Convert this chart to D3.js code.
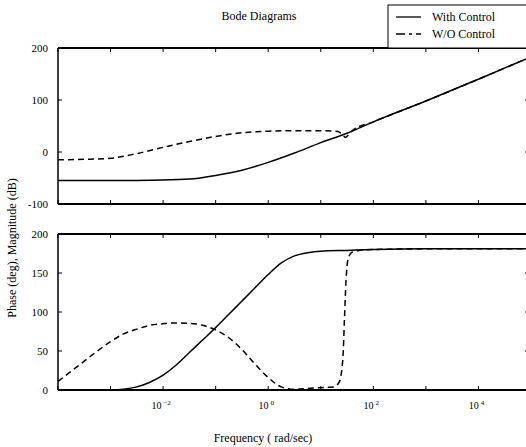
<!DOCTYPE html>
<html>
<head>
<meta charset="utf-8">
<script src="https://cdn.jsdelivr.net/npm/d3@7"></script>
<style>
  html, body { margin: 0; padding: 0; background: #fff; }
  svg { display: block; }
  text { font-family: "Liberation Serif", "Times New Roman", serif; fill: #000; }
</style>
</head>
<body>
<svg id="chart" width="526" height="447"></svg>
<script>
// Frequency samples are given as log10(rad/sec)
const magWithLogF = [-4, -3, -2, -1.5, -1, -0.5, 0, 0.5, 1, 1.5, 2, 3, 4, 5];
const magWith     = [-55, -55, -54, -52, -45, -35, -20, -2, 18, 36, 58, 98, 140, 183];

const magWoLogF = [-4, -3.5, -3, -2.5, -2, -1.5, -1, -0.5, 0, 0.5, 1, 1.3, 1.4, 1.47, 1.52, 1.6, 2, 3, 4, 5];
const magWo     = [-15, -14, -12, -3, 9, 20, 30, 37, 40, 41, 41, 40, 35, 28, 32, 41, 58, 98, 140, 183];

const phWithLogF = [-4, -3, -2.75, -2.5, -2.25, -2, -1.75, -1.5, -1.25, -1, -0.75, -0.5, -0.25, 0, 0.25, 0.5, 0.75, 1, 1.5, 2, 3, 4, 5];
const phWith     = [0, 0, 1, 4, 10, 19, 32, 48, 64, 80, 97, 114, 131, 148, 163, 172, 176, 178, 179, 180, 181, 181, 181];

const phWoLogF = [-4, -3.75, -3.5, -3.25, -3, -2.75, -2.5, -2.25, -2, -1.75, -1.5, -1.25, -1, -0.75, -0.5, -0.25, 0, 0.25, 0.5, 0.75, 1, 1.25, 1.35, 1.42, 1.45, 1.48, 1.52, 1.6, 1.75, 2, 3, 4, 5];
const phWo     = [11, 24, 37, 50, 62, 72, 78, 83, 85, 86, 85.5, 83, 77, 67, 52, 33, 16, 4, 1, 2, 3, 4, 10, 40, 90, 140, 168, 177, 179, 180, 181, 181, 181];

const magTicks = [-100, 0, 100, 200];
const phTicks  = [0, 50, 100, 150, 200];
const freqLabelExps = [-2, 0, 2, 4];
const decadeExps = d3.range(-4, 6);

const legendNames = ["With Control", "W/O Control"];

const svg = d3.select("#chart");

const x = d3.scaleLog().domain([1e-4, 1e5]).range([58, 531]);
const yMag = d3.scaleLinear().domain([-100, 200]).range([204, 48]);
const yPh  = d3.scaleLinear().domain([0, 200]).range([390, 234]);

function pts(logF, vals) { return logF.map((l, i) => [Math.pow(10, l), vals[i]]); }

function panel(y, ticks) {
  const [yb, yt] = y.range();
  const g = svg.append("g");
  const x0 = x.range()[0], x1 = x.range()[1];
  // frame
  g.append("line").attr("x1", x0).attr("x2", x1).attr("y1", yt).attr("y2", yt)
    .attr("stroke", "#000").attr("stroke-width", 2);
  g.append("line").attr("x1", x0).attr("x2", x1).attr("y1", yb).attr("y2", yb)
    .attr("stroke", "#000").attr("stroke-width", 2);
  g.append("line").attr("x1", x0).attr("x2", x0).attr("y1", yt).attr("y2", yb)
    .attr("stroke", "#000").attr("stroke-width", 1.5);
  g.append("line").attr("x1", x1).attr("x2", x1).attr("y1", yt).attr("y2", yb)
    .attr("stroke", "#000").attr("stroke-width", 1.5);
  // y ticks (inward, both sides)
  ticks.forEach(t => {
    g.append("line").attr("x1", x0).attr("x2", x0 + 4).attr("y1", y(t)).attr("y2", y(t))
      .attr("stroke", "#000").attr("stroke-width", 1);
    g.append("line").attr("x1", x1).attr("x2", x1 - 6).attr("y1", y(t)).attr("y2", y(t))
      .attr("stroke", "#000").attr("stroke-width", 1);
    g.append("text").attr("x", 48).attr("y", y(t) + 4).attr("text-anchor", "end")
      .attr("font-size", 11).text(t);
  });
  // decade ticks (inward, top and bottom)
  decadeExps.forEach(e => {
    const xx = x(Math.pow(10, e));
    g.append("line").attr("x1", xx).attr("x2", xx).attr("y1", yb).attr("y2", yb - 4)
      .attr("stroke", "#000").attr("stroke-width", 1);
    g.append("line").attr("x1", xx).attr("x2", xx).attr("y1", yt).attr("y2", yt + 4)
      .attr("stroke", "#000").attr("stroke-width", 1);
  });
}

panel(yMag, magTicks);
panel(yPh, phTicks);

function curve(y, data, dashed) {
  const line = d3.line().x(d => x(d[0])).y(d => y(d[1])).curve(d3.curveMonotoneX);
  svg.append("path").attr("d", line(data)).attr("fill", "none")
    .attr("stroke", "#000").attr("stroke-width", 1.5)
    .attr("stroke-dasharray", dashed ? "6,4" : null);
}

curve(yMag, pts(magWoLogF, magWo), true);
curve(yMag, pts(magWithLogF, magWith), false);
curve(yPh, pts(phWoLogF, phWo), true);
curve(yPh, pts(phWithLogF, phWith), false);

// frequency labels under the phase panel
freqLabelExps.forEach(e => {
  const t = svg.append("text").attr("x", x(Math.pow(10, e)) - 2).attr("y", 409)
    .attr("text-anchor", "middle").attr("font-size", 10);
  t.append("tspan").text("10");
  t.append("tspan").attr("dx", 2).attr("dy", -4).attr("font-size", 7)
    .text(e < 0 ? "\u2212" + Math.abs(e) : String(e));
});

// title
svg.append("text").attr("x", 259).attr("y", 20).attr("text-anchor", "middle")
  .attr("font-size", 12).text("Bode Diagrams");

// axis titles
svg.append("text").attr("x", 263).attr("y", 442).attr("text-anchor", "middle")
  .attr("font-size", 12).text("Frequency ( rad/sec)");
svg.append("text").attr("transform", "translate(16,248) rotate(-90)")
  .attr("text-anchor", "middle").attr("font-size", 12)
  .text("Phase (deg), Magnitude (dB)");

// legend
const lg = svg.append("g");
lg.append("rect").attr("x", 388).attr("y", 5).attr("width", 160).attr("height", 43)
  .attr("fill", "#fff").attr("stroke", "#000").attr("stroke-width", 1);
legendNames.forEach((name, i) => {
  const yy = 17 + i * 17;
  lg.append("line").attr("x1", 396).attr("x2", 421).attr("y1", yy).attr("y2", yy)
    .attr("stroke", "#000").attr("stroke-width", 1.3)
    .attr("stroke-dasharray", i === 1 ? "9,4,3,4" : null);
  lg.append("text").attr("x", 432).attr("y", yy + 4).attr("font-size", 12).text(name);
});
</script>
</body>
</html>
